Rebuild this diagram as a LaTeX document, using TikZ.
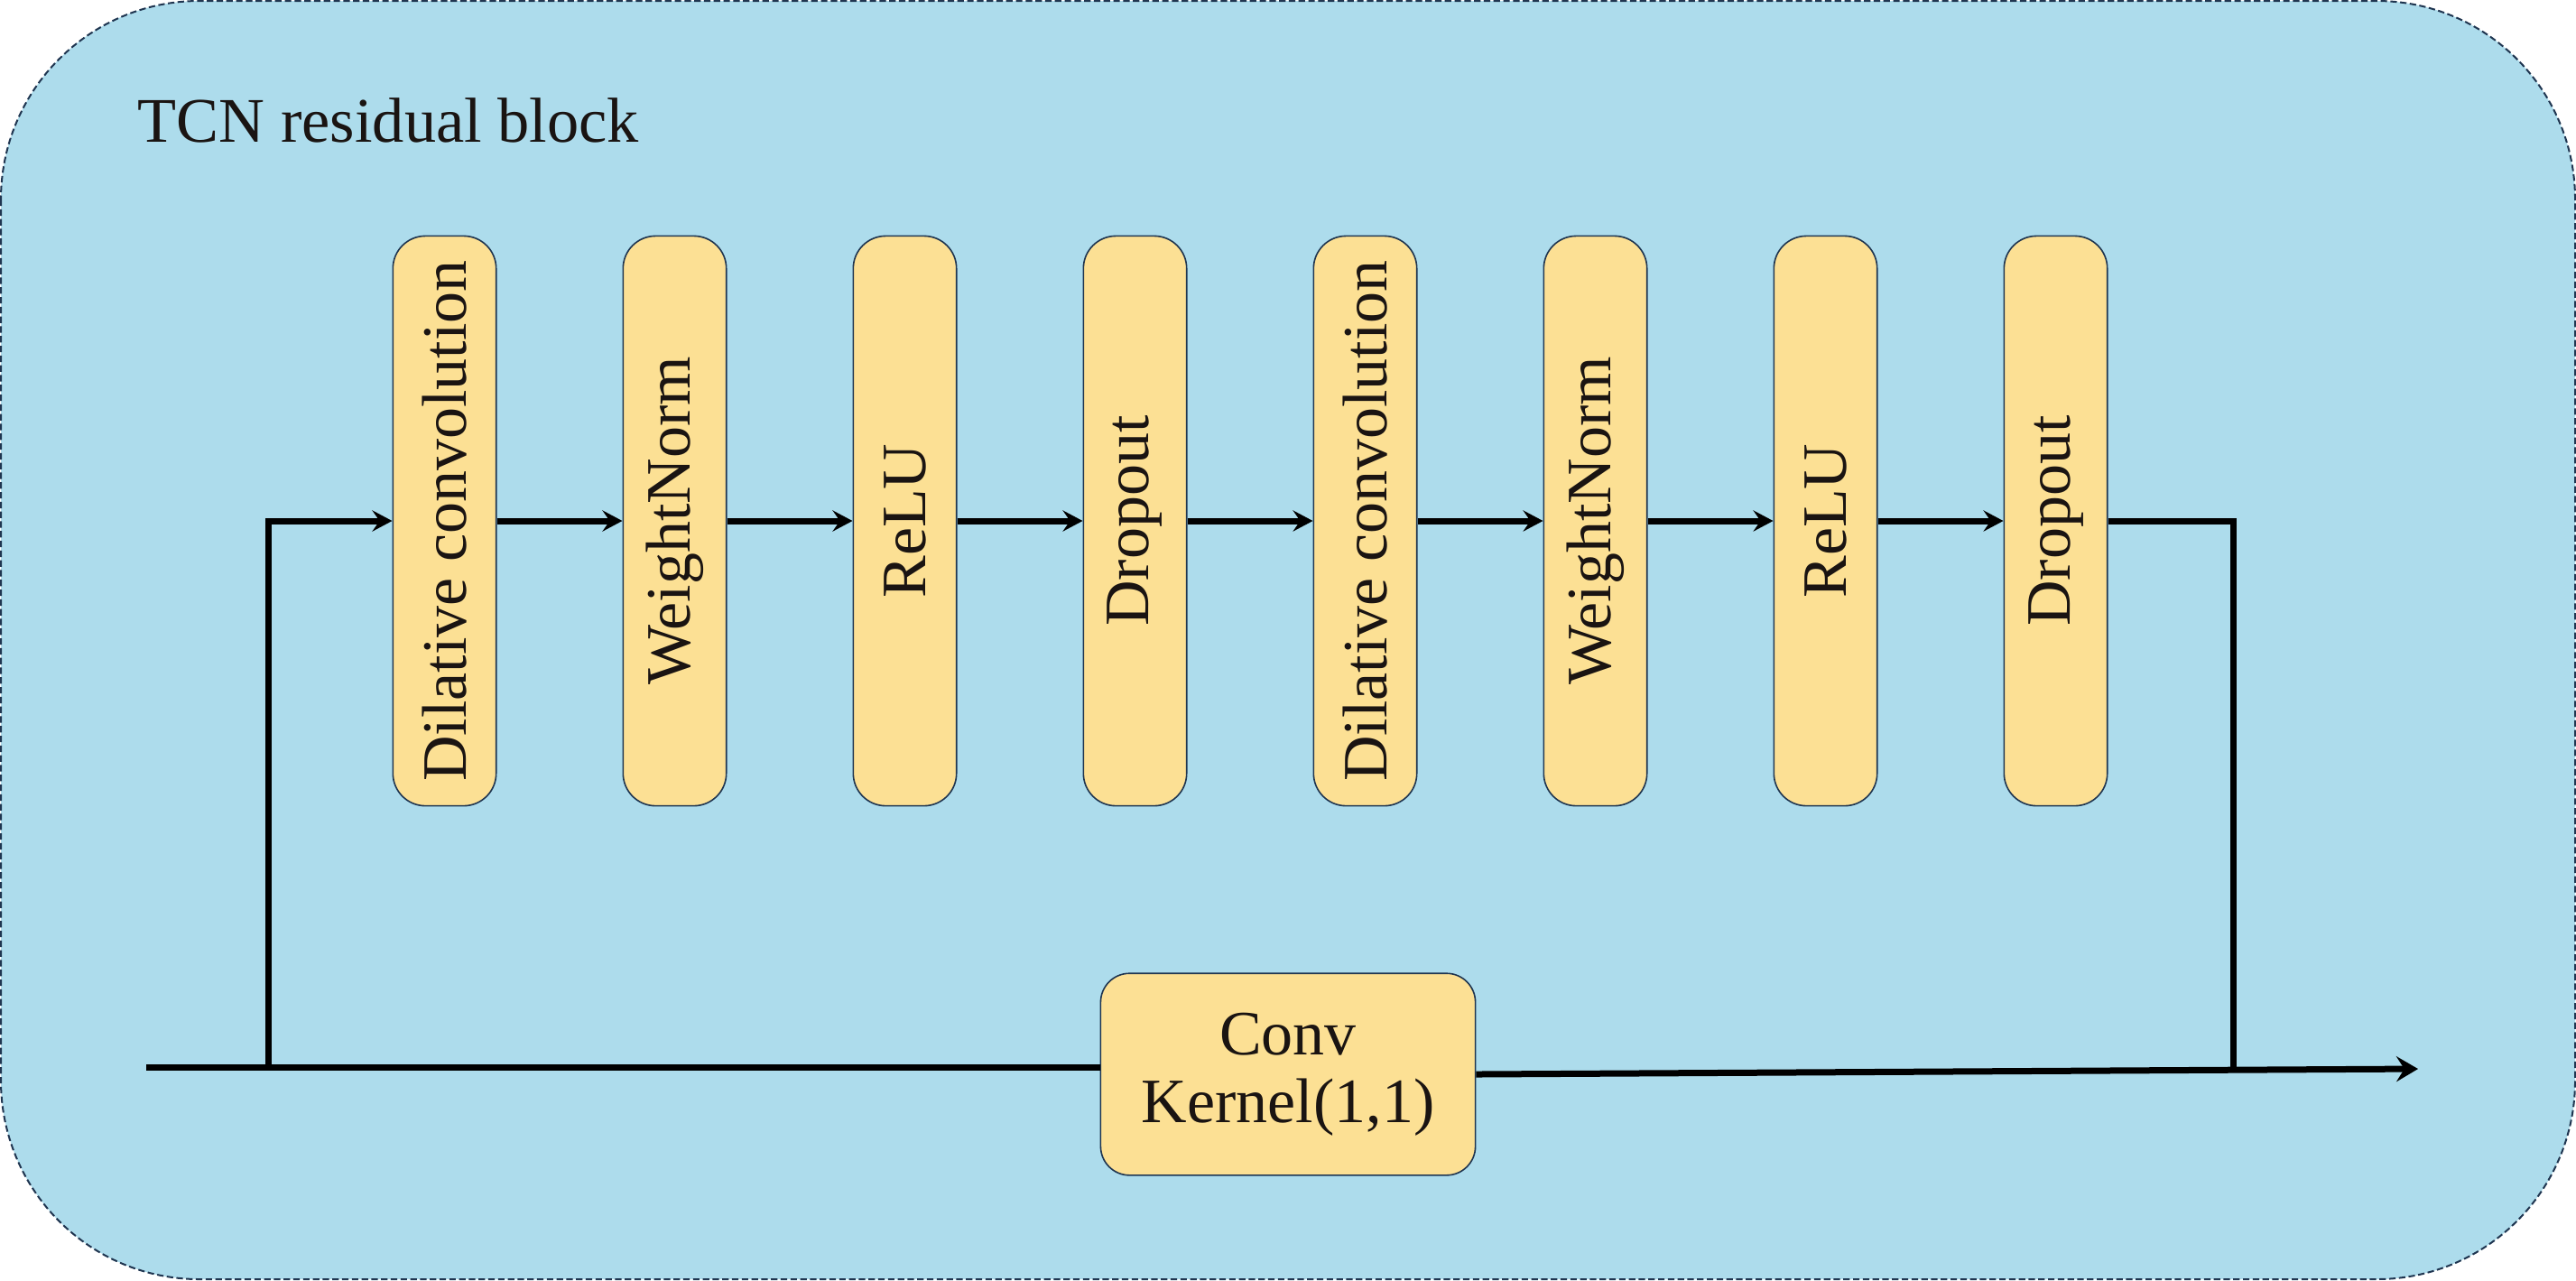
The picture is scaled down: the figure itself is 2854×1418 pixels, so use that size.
\documentclass[tikz,border=0pt]{standalone}
\usepackage{fontspec}
\setmainfont{Liberation Serif}
\usetikzlibrary{arrows.meta}
\definecolor{bgblue}{HTML}{ADDCEC}
\definecolor{boxyellow}{HTML}{FCE094}
\definecolor{navy}{HTML}{1F3550}
\definecolor{ink}{HTML}{1A1412}
\tikzset{
  outerbox/.style={draw=navy, line width=0.5pt, dash pattern=on 1.8pt off 0.9pt, fill=bgblue, rounded corners=55pt},
  layerbox/.style={draw=navy, line width=0.4pt, fill=boxyellow, rounded corners=9pt, minimum width=28.6pt, minimum height=157.8pt, inner sep=0pt, text=ink, font=\fontsize{17.5}{18.75}\selectfont},
  convbox/.style={draw=navy, line width=0.4pt, fill=boxyellow, rounded corners=8pt, minimum width=103.8pt, minimum height=55.9pt, inner sep=0pt, text=ink, align=center, font=\fontsize{17.5}{18.75}\selectfont},
  wire/.style={line width=1.75pt, black, line join=miter},
  arr/.style={wire, -{Stealth[length=5.5pt, width=5.8pt, inset=2pt]}},
  title/.style={text=ink, font=\fontsize{17.6}{20}\selectfont, inner sep=0pt, anchor=base west}
}
\begin{document}
\begin{tikzpicture}[x=0.25pt, y=-0.25pt]
\useasboundingbox (0,0) rectangle (2854,1418);
\path[outerbox] (1,1) rectangle (2853,1417);
\node[title] (ttl) at (152,157) {TCN residual block};

\node[layerbox] (b1) at (492.5,577) {\rotatebox{90}{Dilative convolution}};
\node[layerbox] (b2) at (747.5,577) {\rotatebox{90}{WeightNorm}};
\node[layerbox] (b3) at (1002.5,577) {\rotatebox{90}{ReLU}};
\node[layerbox] (b4) at (1257.5,577) {\rotatebox{90}{Dropout}};
\node[layerbox] (b5) at (1512.5,577) {\rotatebox{90}{Dilative convolution}};
\node[layerbox] (b6) at (1767.5,577) {\rotatebox{90}{WeightNorm}};
\node[layerbox] (b7) at (2022.5,577) {\rotatebox{90}{ReLU}};
\node[layerbox] (b8) at (2277.5,577) {\rotatebox{90}{Dropout}};

\node[convbox] (conv) at (1427,1190) {Conv\\Kernel(1,1)};

\coordinate (in) at (162,1182);
\coordinate (split) at (297,1182);
\coordinate (merge) at (2474,1185);
\coordinate (out) at (2679,1184);

\draw[wire] (in) -- (in -| conv.west);
\draw[arr] (split) |- (b1.west);
\draw[arr] (b1.east) -- (b2.west);
\draw[arr] (b2.east) -- (b3.west);
\draw[arr] (b3.east) -- (b4.west);
\draw[arr] (b4.east) -- (b5.west);
\draw[arr] (b5.east) -- (b6.west);
\draw[arr] (b6.east) -- (b7.west);
\draw[arr] (b7.east) -- (b8.west);
\draw[wire] (b8.east) -| (merge);
\draw[wire, -{Stealth[length=6pt, width=7pt, inset=2.2pt]}] (conv.east) -- (out);
\end{tikzpicture}
\end{document}
